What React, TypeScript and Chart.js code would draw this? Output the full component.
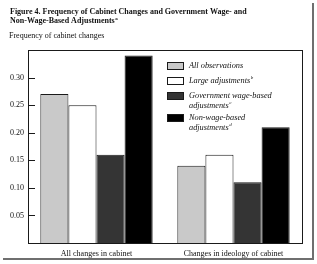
import React, { useEffect, useRef } from "react";
import { Chart, registerables } from "chart.js";

Chart.register(...registerables);

const categories = ["All changes in cabinet", "Changes in ideology of cabinet"];
const seriesNames = ["All observations", "Large adjustments", "Government wage-based adjustments", "Non-wage-based adjustments"];
const legendLines = [["All observations"], ["Large adjustments"], ["Government wage-based", "adjustments"], ["Non-wage-based", "adjustments"]];
const legendNotes = ["", "b", "c", "d"];
const allObservations = [0.27, 0.14];
const largeAdjustments = [0.25, 0.16];
const wageBased = [0.16, 0.11];
const nonWageBased = [0.34, 0.21];
const yTicks = [0.05, 0.1, 0.15, 0.2, 0.25, 0.3];
const titleLines = ["Figure 4. Frequency of Cabinet Changes and Government Wage- and", "Non-Wage-Based Adjustments"];
const titleNote = "a";
const axisTitle = "Frequency of cabinet changes";

const fills = ["#c9c9c9", "#ffffff", "#343434", "#000000"];
const SERIF = "'Liberation Serif', 'DejaVu Serif', serif";

const decorPlugin = {
  id: "decor",
  afterDraw(chart: any) {
    const ctx = chart.ctx;
    const a = chart.chartArea;
    const y = chart.scales.y;
    ctx.save();
    ctx.strokeStyle = "#1a1a1a";
    ctx.lineWidth = 1;
    ctx.strokeRect(Math.round(a.left) + 0.5, Math.round(a.top) + 0.5, Math.round(a.right - a.left), Math.round(a.bottom - a.top));
    yTicks.forEach((v) => {
      const py = Math.round(y.getPixelForValue(v)) + 0.5;
      ctx.beginPath();
      ctx.moveTo(a.left, py);
      ctx.lineTo(a.left + 7, py);
      ctx.stroke();
    });
    const bx = 167;
    const tx = 189;
    const tops = [62, 77, 92, 114];
    ctx.textBaseline = "middle";
    ctx.textAlign = "left";
    legendLines.forEach((lines, i) => {
      const top = tops[i];
      ctx.fillStyle = fills[i];
      ctx.fillRect(bx, top, 17, 8);
      ctx.strokeStyle = "#1a1a1a";
      ctx.strokeRect(bx + 0.5, top + 0.5, 16, 7);
      ctx.fillStyle = "#111";
      lines.forEach((ln, j) => {
        const ly = top + 4 + j * 9.5;
        ctx.font = `italic 8.3px ${SERIF}`;
        ctx.fillText(ln, tx, ly);
        if (j === lines.length - 1 && legendNotes[i]) {
          const w = ctx.measureText(ln).width;
          ctx.font = `italic 5px ${SERIF}`;
          ctx.fillText(legendNotes[i], tx + w + 0.5, ly - 3);
        }
      });
    });
    ctx.fillStyle = "#111";
    ctx.font = `bold 8px ${SERIF}`;
    ctx.fillText(titleLines[0], 10, 12);
    ctx.fillText(titleLines[1], 10, 21);
    const tw = ctx.measureText(titleLines[1]).width;
    ctx.font = `bold 5px ${SERIF}`;
    ctx.fillText(titleNote, 10 + tw + 0.5, 18.5);
    ctx.font = `8px ${SERIF}`;
    ctx.fillText(axisTitle, 9, 35.5);
    ctx.fillStyle = "#6f6f6f";
    ctx.fillRect(312, 3, 2, 257);
    ctx.fillRect(3, 258, 311, 2);
    ctx.restore();
  },
};

export default function App() {
  const ref = useRef<HTMLCanvasElement | null>(null);
  useEffect(() => {
    document.body.style.margin = "0";
    const values = [allObservations, largeAdjustments, wageBased, nonWageBased];
    const chart = new Chart(ref.current as HTMLCanvasElement, {
      type: "bar",
      data: {
        labels: categories,
        datasets: seriesNames.map((name, i) => ({
          label: name,
          data: values[i],
          backgroundColor: fills[i],
          borderColor: "#1a1a1a",
          borderWidth: 1,
          barPercentage: 1,
          categoryPercentage: 0.82,
        })),
      },
      options: {
        responsive: false,
        animation: false,
        layout: { padding: { top: 50, right: 15, left: 0, bottom: 0 } },
        plugins: { legend: { display: false }, title: { display: false }, tooltip: { enabled: false } },
        scales: {
          x: {
            grid: { display: false, drawTicks: false },
            border: { display: false },
            ticks: { color: "#111", font: { family: SERIF, size: 8 }, padding: 6, maxRotation: 0 },
            afterFit: (s: any) => { s.height = 21; },
          },
          y: {
            min: 0,
            max: 0.35,
            grid: { display: false, drawTicks: false },
            border: { display: false },
            ticks: {
              stepSize: 0.05,
              padding: 4,
              color: "#111",
              font: { family: SERIF, size: 8 },
              callback: (v: any) => (yTicks.some((t) => Math.abs(t - v) < 1e-9) ? Number(v).toFixed(2) : ""),
            },
            afterFit: (s: any) => { s.width = 28; },
          },
        },
      },
      plugins: [decorPlugin],
    });
    return () => chart.destroy();
  }, []);
  return <canvas ref={ref} width={317} height={264} style={{ display: "block" }} />;
}
